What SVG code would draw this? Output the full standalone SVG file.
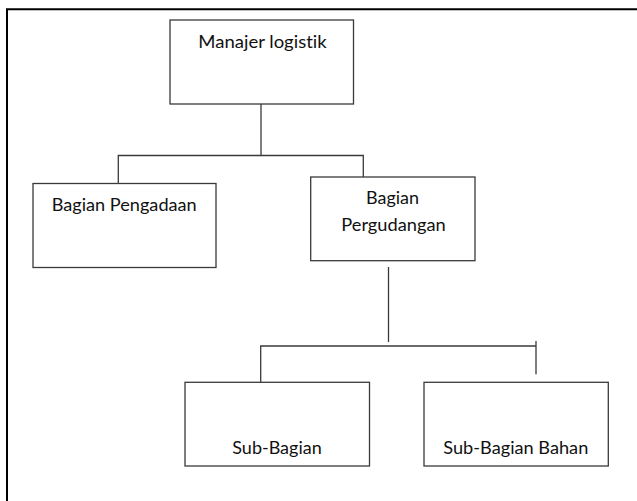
<svg xmlns="http://www.w3.org/2000/svg" width="637" height="501" viewBox="0 0 637 501">
  <style>
    .box { fill: #ffffff; stroke: #3a3a3a; stroke-width: 1.3; }
    .wire { fill: none; stroke: #3a3a3a; stroke-width: 1.3; }
    .label { font-family: Lato, "Liberation Sans", sans-serif; font-size: 17.5px; fill: #111111; font-variant-ligatures: none; }
  </style>
  <rect width="637" height="501" fill="#ffffff"/>
  <!-- page frame: only top and left edges are visible -->
  <path d="M7,501 V9.3 H637" fill="none" stroke="#000000" stroke-width="2"/>

  <g id="connectors">
    <path class="wire" d="M261,104 V155.5"/>
    <path class="wire" d="M118.3,184 V155.5 H363.3 V177"/>
    <path class="wire" d="M388.5,267 V342"/>
    <path class="wire" d="M260.7,382.3 V346 H536"/>
    <path class="wire" d="M536,341 V374.3"/>
  </g>

  <g id="manajer-logistik">
    <rect class="box" x="170" y="20" width="183.5" height="84"/>
    <text class="label" x="198.3" y="47.7" textLength="128.4" lengthAdjust="spacingAndGlyphs">Manajer logistik</text>
  </g>

  <g id="bagian-pengadaan">
    <rect class="box" x="33" y="183.5" width="183" height="84"/>
    <text class="label" x="51.7" y="211" textLength="145" lengthAdjust="spacingAndGlyphs">Bagian Pengadaan</text>
  </g>

  <g id="bagian-pergudangan">
    <rect class="box" x="310.7" y="177" width="164.3" height="83.7"/>
    <text class="label" x="366" y="204" textLength="53" lengthAdjust="spacingAndGlyphs">Bagian</text>
    <text class="label" x="341.3" y="231" textLength="104.4" lengthAdjust="spacingAndGlyphs">Pergudangan</text>
  </g>

  <g id="sub-bagian">
    <rect class="box" x="185" y="382.3" width="184.5" height="83.7"/>
    <text class="label" x="232.3" y="454.3" textLength="89.4" lengthAdjust="spacingAndGlyphs">Sub-Bagian</text>
  </g>

  <g id="sub-bagian-bahan">
    <rect class="box" x="424" y="382.3" width="184.3" height="83.7"/>
    <text class="label" x="443.3" y="454.3" textLength="145" lengthAdjust="spacingAndGlyphs">Sub-Bagian Bahan</text>
  </g>
</svg>
